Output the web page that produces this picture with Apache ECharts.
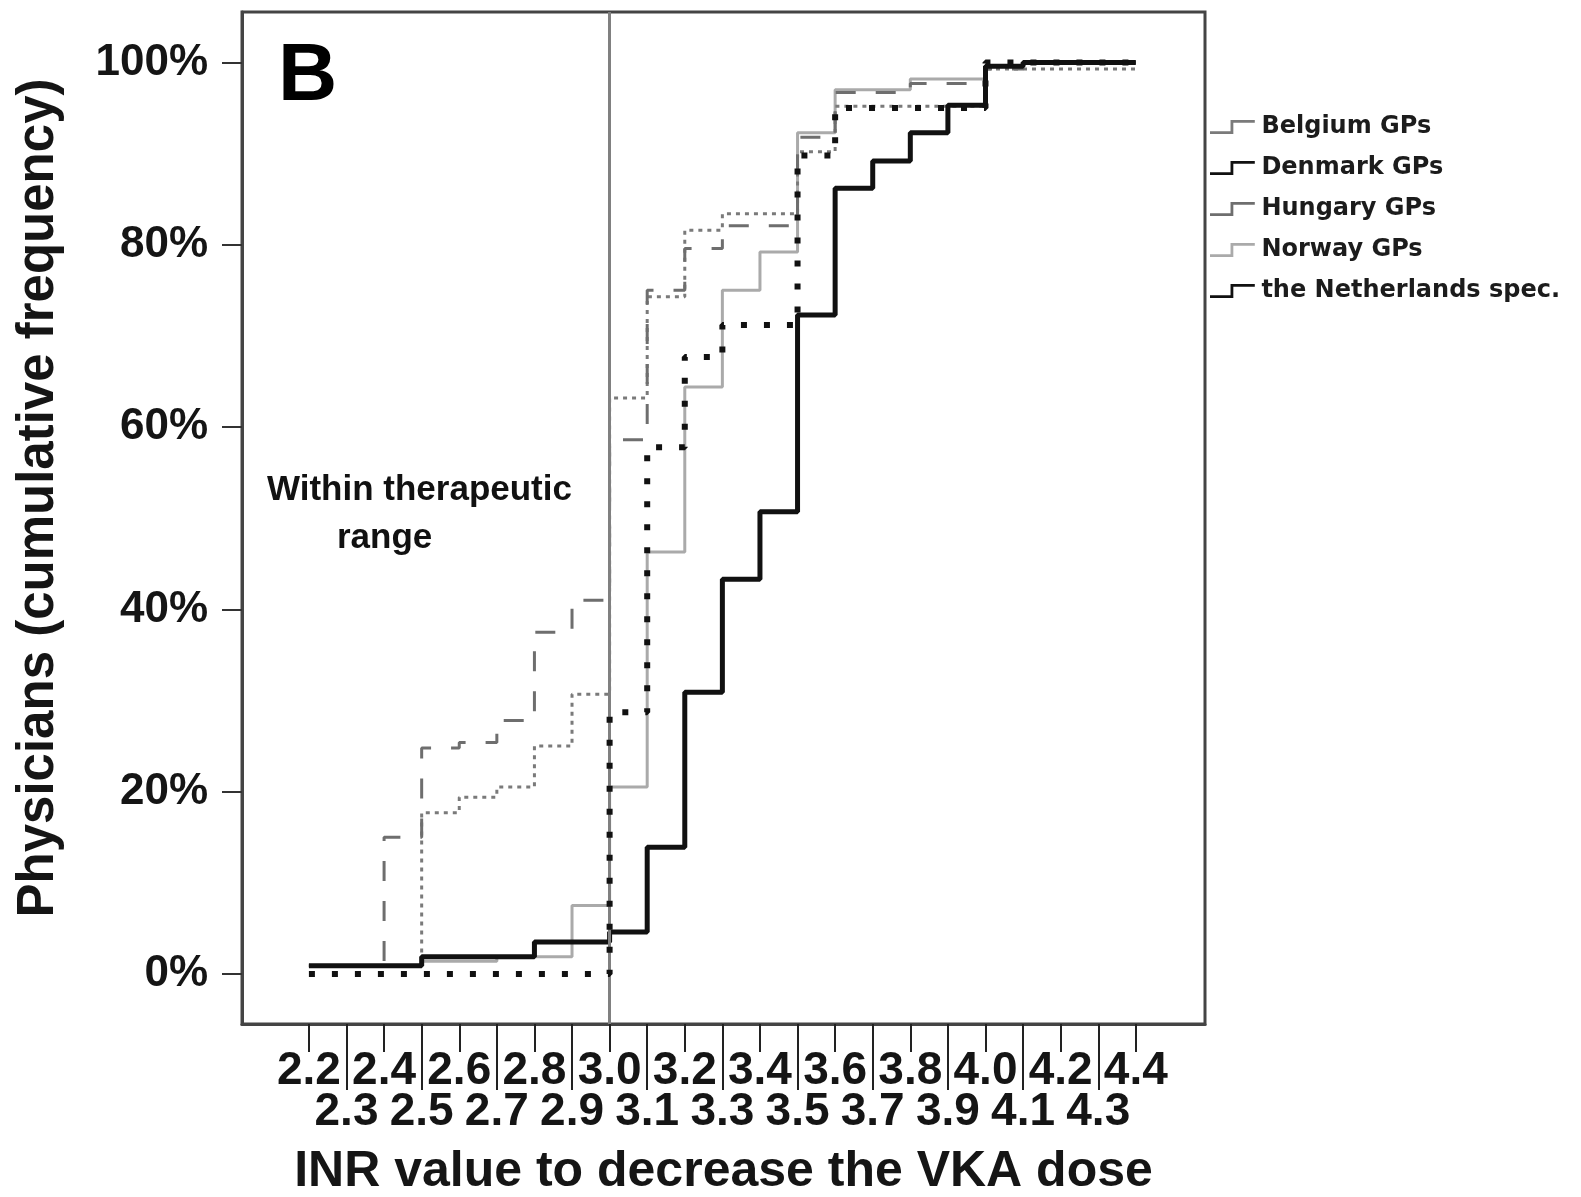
<!DOCTYPE html>
<html>
<head>
<meta charset="utf-8">
<script src="https://cdn.jsdelivr.net/npm/echarts@6/dist/echarts.min.js"></script>
<style>
  html, body { margin: 0; padding: 0; background: #fff; }
  #chart { width: 1581px; height: 1197px; }
</style>
</head>
<body>
<div id="chart"></div>
<script>
// INR thresholds (x) and cumulative % of physicians per group
const inrValues = [2.2, 2.3, 2.4, 2.5, 2.6, 2.7, 2.8, 2.9, 3.0, 3.1, 3.2, 3.3, 3.4, 3.5, 3.6, 3.7, 3.8, 3.9, 4.0, 4.1, 4.2, 4.3, 4.4];
const evenValues = [2.2, 2.4, 2.6, 2.8, 3.0, 3.2, 3.4, 3.6, 3.8, 4.0, 4.2, 4.4];
const oddValues = [2.3, 2.5, 2.7, 2.9, 3.1, 3.3, 3.5, 3.7, 3.9, 4.1, 4.3];
const yTicks = [0, 20, 40, 60, 80, 100];
const therapeuticLimit = 3.0;

const belgium     = [0.9, 0.9, 0.9, 17.7, 19.4, 20.5, 25.0, 30.7, 63.2, 74.3, 81.6, 83.4, 83.4, 90.2, 95.2, 95.2, 95.2, 95.2, 99.3, 99.3, 99.3, 99.3, 99.3];
const denmark     = [0.9, 0.9, 0.9, 1.9, 1.9, 1.9, 3.5, 3.5, 4.6, 13.9, 30.9, 43.3, 50.7, 72.3, 86.2, 89.2, 92.3, 95.3, 99.6, 100, 100, 100, 100];
const hungary     = [0.9, 0.9, 15.0, 24.8, 25.4, 27.8, 37.5, 41.0, 58.6, 75.0, 79.6, 82.1, 82.1, 91.8, 96.7, 96.7, 97.7, 97.7, 99.3, 100, 100, 100, 100];
const norway      = [0.9, 0.9, 0.9, 1.4, 1.4, 1.9, 1.9, 7.5, 20.5, 46.3, 64.4, 75.0, 79.2, 92.3, 97.0, 97.0, 98.2, 98.2, 99.6, 100, 100, 100, 100];
const netherlands = [0, 0, 0, 0, 0, 0, 0, 0, 28.7, 57.8, 67.7, 71.2, 71.2, 89.8, 95.0, 95.0, 95.0, 95.0, 100, 100, 100, 100, 100];

const names = ['Belgium GPs', 'Denmark GPs', 'Hungary GPs', 'Norway GPs', 'the Netherlands spec.'];

const pairs = (vals) => inrValues.map((x, i) => [x, vals[i]]);
const stepIcon = 'path://M0,13 L22,13 L22,1 L48,1 L48,4 L25,4 L25,16 L0,16 Z';

const chart = echarts.init(document.getElementById('chart'));

const axisColor = '#444';
const textColor = '#151515';
const baseFont = 'Liberation Sans, Arial, sans-serif';
const xMin = 2.022, xMax = 4.584;
const labelFont = { fontFamily: baseFont, fontWeight: 'bold', fontSize: 46, color: textColor };

const option = {
  animation: false,
  backgroundColor: '#fff',
  grid: {
    left: 242, top: 12, right: 376, bottom: 173,
    outerBoundsMode: 'none',
    containLabel: false,
    show: true, borderColor: axisColor, borderWidth: 3
  },
  legend: {
    orient: 'vertical',
    left: 1205,
    top: 110,
    itemWidth: 48,
    itemHeight: 14,
    itemGap: 17,
    textStyle: { fontFamily: 'DejaVu Sans', fontWeight: 'bold', fontSize: 24, color: '#1c1c1c' },
    data: names.map(n => ({ name: n, icon: stepIcon }))
  },
  graphic: [
    { type: 'text', left: 278, top: 36, style: { text: 'B', font: 'bold 82px Liberation Sans, Arial, sans-serif', fill: '#000' } },
    { type: 'text', left: 267, top: 473, style: { text: 'Within therapeutic', font: 'bold 35px Liberation Sans, Arial, sans-serif', fill: '#111' } },
    { type: 'text', left: 337, top: 521, style: { text: 'range', font: 'bold 35px Liberation Sans, Arial, sans-serif', fill: '#111' } }
  ],
  xAxis: [
    {
      type: 'value',
      min: xMin,
      max: xMax,
      name: 'INR value to decrease the VKA dose',
      nameLocation: 'middle',
      nameGap: 123,
      nameTextStyle: { fontFamily: baseFont, fontWeight: 'bold', fontSize: 50, color: textColor },
      axisLine: { show: true, onZero: false, lineStyle: { color: axisColor, width: 3 } },
      axisTick: { show: true, customValues: inrValues, length: 28, lineStyle: { color: '#222', width: 2 } },
      axisLabel: Object.assign({
        customValues: evenValues,
        showMinLabel: true, showMaxLabel: true,
        margin: 24,
        formatter: (v) => v.toFixed(1)
      }, labelFont),
      splitLine: { show: false }
    },
    {
      type: 'value',
      position: 'bottom',
      min: xMin,
      max: xMax,
      axisLine: { show: false, onZero: false },
      axisTick: { show: true, customValues: oddValues, length: 66, lineStyle: { color: '#222', width: 2 } },
      axisLabel: Object.assign({
        customValues: oddValues,
        showMinLabel: true, showMaxLabel: true,
        margin: 65,
        formatter: (v) => v.toFixed(1)
      }, labelFont),
      splitLine: { show: false }
    }
  ],
  yAxis: {
    type: 'value',
    min: -5.49,
    max: 105.54,
    name: 'Physicians (cumulative frequency)',
    nameLocation: 'middle',
    nameGap: 178,
    nameTextStyle: { fontFamily: baseFont, fontWeight: 'bold', fontSize: 51, color: textColor, padding: [0, 0, 0, 40] },
    axisLine: { show: true, onZero: false, lineStyle: { color: axisColor, width: 3 } },
    axisTick: { show: true, customValues: yTicks, length: 20, lineStyle: { color: '#333', width: 2 } },
    axisLabel: {
      customValues: yTicks,
      showMinLabel: true, showMaxLabel: true,
      margin: 34,
      fontFamily: baseFont, fontWeight: 'bold', fontSize: 44, color: textColor,
      formatter: '{value}%'
    },
    splitLine: { show: false }
  },
  series: [
    {
      name: names[0], type: 'line', step: 'end', data: pairs(belgium),
      showSymbol: false, symbol: 'none', z: 3,
      itemStyle: { color: '#7a7a7a' },
      lineStyle: { color: '#7a7a7a', width: 3, type: [4, 5] },
      markLine: {
        silent: true, symbol: 'none', label: { show: false },
        lineStyle: { color: '#808080', width: 3, type: 'solid' },
        data: [{ xAxis: therapeuticLimit }]
      }
    },
    {
      name: names[1], type: 'line', step: 'end', data: pairs(denmark),
      showSymbol: false, symbol: 'none', z: 4,
      itemStyle: { color: '#111' },
      lineStyle: { color: '#111', width: 5 }
    },
    {
      name: names[2], type: 'line', step: 'end', data: pairs(hungary),
      showSymbol: false, symbol: 'none', z: 3,
      itemStyle: { color: '#6e6e6e' },
      lineStyle: { color: '#6e6e6e', width: 3, type: [20, 20] }
    },
    {
      name: names[3], type: 'line', step: 'end', data: pairs(norway),
      showSymbol: false, symbol: 'none', z: 2,
      itemStyle: { color: '#aaaaaa' },
      lineStyle: { color: '#aaaaaa', width: 3 }
    },
    {
      name: names[4], type: 'line', step: 'end', data: pairs(netherlands),
      showSymbol: false, symbol: 'none', z: 5,
      itemStyle: { color: '#111' },
      lineStyle: { color: '#111', width: 6, type: [6, 17] }
    }
  ]
};

chart.setOption(option);
</script>
</body>
</html>
